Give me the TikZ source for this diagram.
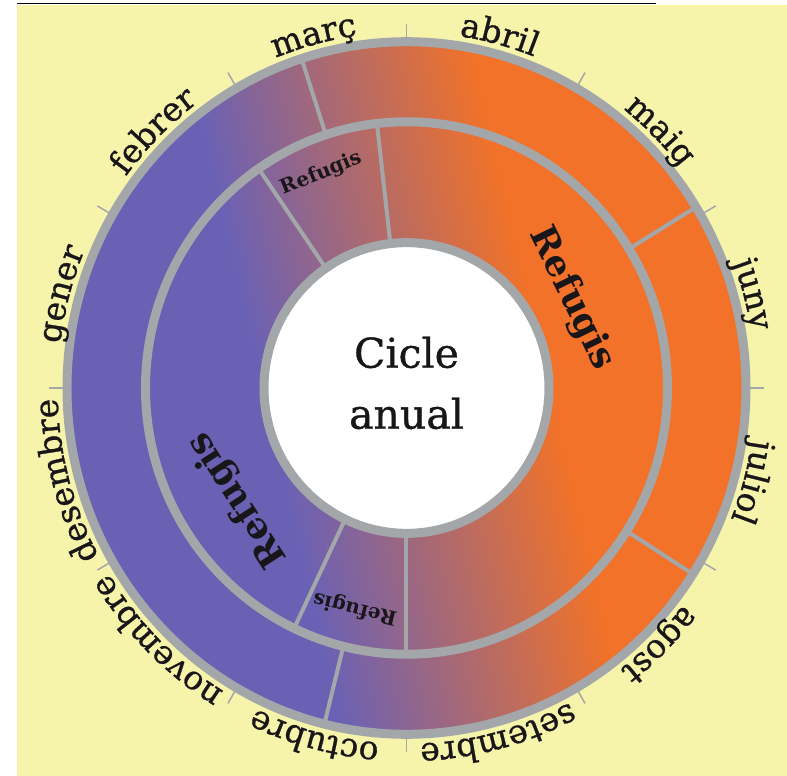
\documentclass[tikz,border=0pt]{standalone}
\usepackage{fontspec}
\setmainfont{DejaVu Serif}
\newfontfamily\heavyserif[FakeBold=0.8]{DejaVu Serif}
\usetikzlibrary{decorations.text}

\definecolor{paper}{RGB}{246,243,171}
\definecolor{winter}{RGB}{107,97,180}
\definecolor{summer}{RGB}{241,114,40}
\definecolor{rim}{RGB}{163,167,170}
\definecolor{ink}{RGB}{25,22,25}

\pgfdeclarehorizontalshading{seasons}{100bp}{color(0bp)=(winter); color(39.8bp)=(winter); color(60.2bp)=(summer); color(100bp)=(summer)}

\newcommand\monthfont{\heavyserif\fontsize{33}{33}\selectfont}

\tikzset{
		ring/.style        = {draw=rim, line width=9pt},
		divider/.style     = {draw=rim, line width=4pt},
		monthtick/.style   = {draw=rim, line width=1.5pt},
		refuge/.style      = {font=\bfseries\fontsize{36}{36}\selectfont,
				text=ink, inner sep=0pt},
		smallrefuge/.style = {refuge, font=\bfseries\fontsize{20}{20}\selectfont},
		centrelabel/.style = {align=center, text=ink, inner sep=0pt,
				font=\heavyserif\fontsize{41}{61}\selectfont},
		month/.style       = {decorate, decoration={text along path,
				text align=center, text color=ink}}
	}

\begin{document}
\begin{tikzpicture}
				[x = 1pt, y = 1.02pt]
				\useasboundingbox (-406.5pt,-388pt) rectangle (380.5pt,388pt);
				\fill[paper] (-389.5pt,-388pt) rectangle (380.5pt,383pt);
				\draw[line width=1.5pt] (-389.5pt,384.5pt) -- (249.5pt,384.5pt);
				% month ticks
				\foreach \a in {0,30,...,330}
				\draw[monthtick] (\a:339.5) -- (\a:357);
				\shade[shading=seasons, shading angle=13] (0,0) circle[radius=343];
				\fill[white] (0,0) circle[radius=142.5];
				% season borders
				\foreach \a in {108, 31.5, -32.5, -104}
				\draw[divider] (\a:261) -- (\a:339.5);
				\foreach \a in {96.5, -90, -115.5, 124.5}
				\draw[divider] (\a:142.5) -- (\a:261);
				\draw[ring] (0,0) circle[radius=339.5];
				\draw[ring] (0,0) circle[radius=261];
				\draw[ring] (0,0) circle[radius=142.5];
				% months
				\foreach \ang/\name in {105/març, 75/abril, 45/maig, 15/juny,
						-15/juliol, -45/agost, -75/setembre, -105/octubre,
						-135/novembre, -165/desembre, 165/gener, 135/febrer}
				\path[month, decoration={text/.expanded={|\noexpand\monthfont|\name}}]
				(\ang+28:349) arc[start angle=\ang+28, end angle=\ang-28, radius=349];
				\node[refuge, rotate=-64] (refsummer) at (28:187) {Refugis};
				\node[refuge, rotate=123] (refwinter) at (213:201) {Refugis};
				\node[smallrefuge, rotate=22] (refspring) at (112:227) {Refugis};
				\node[smallrefuge, rotate=166.6] (refautumn) at (-103.4:222) {Refugis};
				\node[centrelabel] (cycle) at (0,5) {Cicle\\anual};
			\end{tikzpicture}
\end{document}
